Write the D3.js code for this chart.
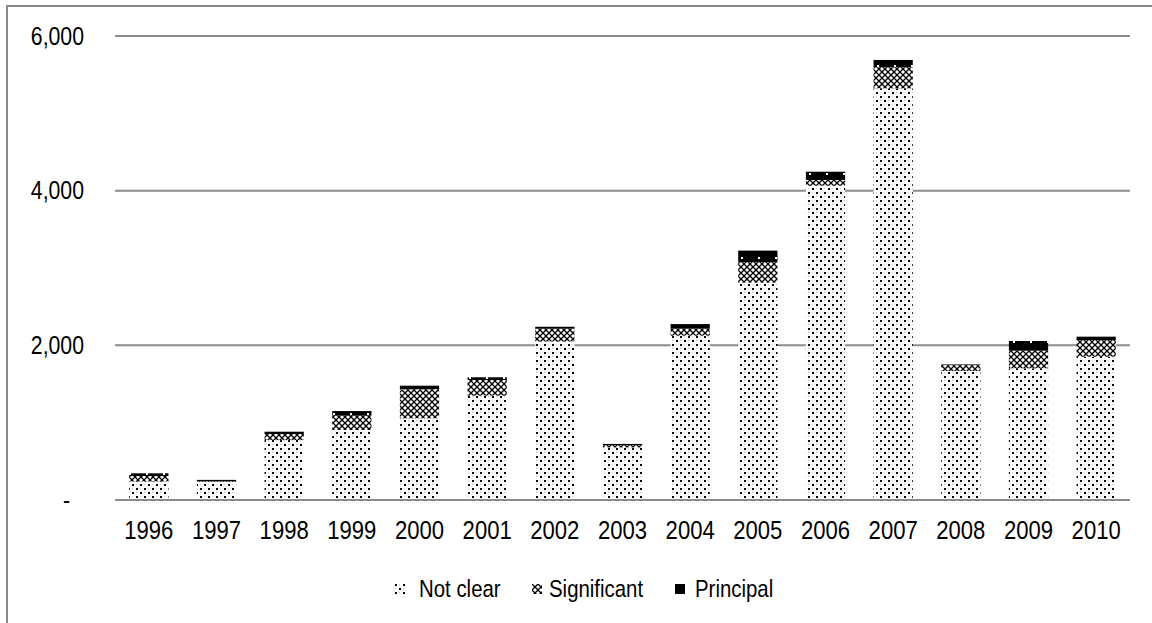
<!DOCTYPE html>
<html>
<head>
<meta charset="utf-8">
<script src="https://cdn.jsdelivr.net/npm/d3@7"></script>
<style>
  body { margin: 0; background: #fff; }
  text { font-family: "Liberation Sans", Arial, sans-serif; fill: #000; }
</style>
</head>
<body>
<svg id="chart"></svg>
<script>
const width = 1152, height = 623;

const years = ["1996","1997","1998","1999","2000","2001","2002","2003","2004","2005","2006","2007","2008","2009","2010"];
const notClear    = [240, 235, 775, 905, 1056, 1349, 2050, 680, 2125, 2810, 4064, 5323, 1668, 1703, 1853];
const significant = [70, 10, 78, 185, 375, 203, 165, 30, 90, 265, 74, 272, 75, 228, 216];
const principal   = [35, 15, 30, 60, 47, 35, 25, 15, 60, 150, 107, 95, 10, 125, 43];
const yTicks = [0, 2000, 4000, 6000];
const seriesNames = ["Not clear", "Significant", "Principal"];
const seriesFill = ["url(#pNotClear)", "url(#pSignificant)", "url(#pPrincipal)"];

const rows = years.map((y, i) => ({
  year: y,
  "Not clear": notClear[i],
  "Significant": significant[i],
  "Principal": principal[i]
}));

// narrow look: Liberation Sans squeezed horizontally
const narrow = (x, y) => `translate(${x},${y}) scale(0.85,1)`;

const svg = d3.select("#chart")
  .attr("width", width)
  .attr("height", height);

// patterns
const defs = svg.append("defs");

const p1 = defs.append("pattern")
  .attr("id", "pNotClear")
  .attr("patternUnits", "userSpaceOnUse")
  .attr("width", 8).attr("height", 8);
p1.append("rect").attr("width", 8).attr("height", 8).attr("fill", "#fff");
[[0, 0], [4, 4]].forEach(([x, y]) =>
  p1.append("rect").attr("x", x).attr("y", y).attr("width", 2).attr("height", 2).attr("fill", "#000"));
[[4, 0], [0, 4]].forEach(([x, y]) =>
  p1.append("rect").attr("x", x).attr("y", y).attr("width", 1).attr("height", 1).attr("fill", "#c4c4c4"));

const p2 = defs.append("pattern")
  .attr("id", "pSignificant")
  .attr("patternUnits", "userSpaceOnUse")
  .attr("width", 6).attr("height", 6);
p2.append("rect").attr("width", 6).attr("height", 6).attr("fill", "#fff");
p2.append("path")
  .attr("d", "M0,0L6,6M6,0L0,6")
  .attr("stroke", "#000")
  .attr("stroke-width", 1.3);

const p3 = defs.append("pattern")
  .attr("id", "pPrincipal")
  .attr("patternUnits", "userSpaceOnUse")
  .attr("width", 17).attr("height", 12);
p3.append("rect").attr("width", 17).attr("height", 12).attr("fill", "#000");
p3.append("rect").attr("x", 10).attr("y", 5).attr("width", 2).attr("height", 2).attr("fill", "#fff");

// chart border (cropped at right/bottom)
svg.append("rect")
  .attr("x", 7).attr("y", 6)
  .attr("width", 1300).attr("height", 800)
  .attr("fill", "none")
  .attr("stroke", "#8c8c8c")
  .attr("stroke-width", 2);

const x = d3.scaleBand()
  .domain(years)
  .range([115, 1130])
  .paddingInner(0.42)
  .paddingOuter(0.21);

const y = d3.scaleLinear()
  .domain([0, 6000])
  .range([500, 36]);

// gridlines
svg.append("g")
  .selectAll("line")
  .data(yTicks.filter(d => d > 0))
  .join("line")
  .attr("x1", 115).attr("x2", 1130)
  .attr("y1", d => y(d)).attr("y2", d => y(d))
  .attr("stroke", "#8c8c8c")
  .attr("stroke-width", 2);

// y labels
svg.append("g")
  .selectAll("text")
  .data(yTicks)
  .join("text")
  .attr("transform", d => narrow(d === 0 ? 70 : 84, y(d)))
  .attr("dy", "0.35em")
  .attr("text-anchor", "end")
  .attr("font-size", 25)
  .text(d => d === 0 ? "-" : d3.format(",")(d));

// stacked bars
const stack = d3.stack().keys(seriesNames);
const layers = stack(rows);

svg.append("g")
  .selectAll("g")
  .data(layers)
  .join("g")
  .attr("fill", (d, i) => seriesFill[i])
  .selectAll("rect")
  .data(d => d)
  .join("rect")
  .attr("x", d => x(d.data.year))
  .attr("width", x.bandwidth())
  .attr("y", d => y(d[1]))
  .attr("height", d => y(d[0]) - y(d[1]));

// x axis line
svg.append("line")
  .attr("x1", 115).attr("x2", 1130)
  .attr("y1", y(0)).attr("y2", y(0))
  .attr("stroke", "#8c8c8c")
  .attr("stroke-width", 2);

// x labels
svg.append("g")
  .selectAll("text")
  .data(years)
  .join("text")
  .attr("transform", d => narrow(x(d) + x.bandwidth() / 2, 539))
  .attr("text-anchor", "middle")
  .attr("font-size", 26)
  .text(d => d);

// legend
const legendX = [395, 532, 675];
const legendTextDx = [24, 17, 20];
const legend = svg.append("g")
  .selectAll("g")
  .data(seriesNames)
  .join("g")
  .attr("transform", (d, i) => `translate(${legendX[i]},584)`);

legend.append("rect")
  .attr("width", 10).attr("height", 10)
  .attr("fill", (d, i) => seriesFill[i]);

legend.append("text")
  .attr("transform", (d, i) => narrow(legendTextDx[i], 13))
  .attr("font-size", 24)
  .text(d => d);
</script>
</body>
</html>
